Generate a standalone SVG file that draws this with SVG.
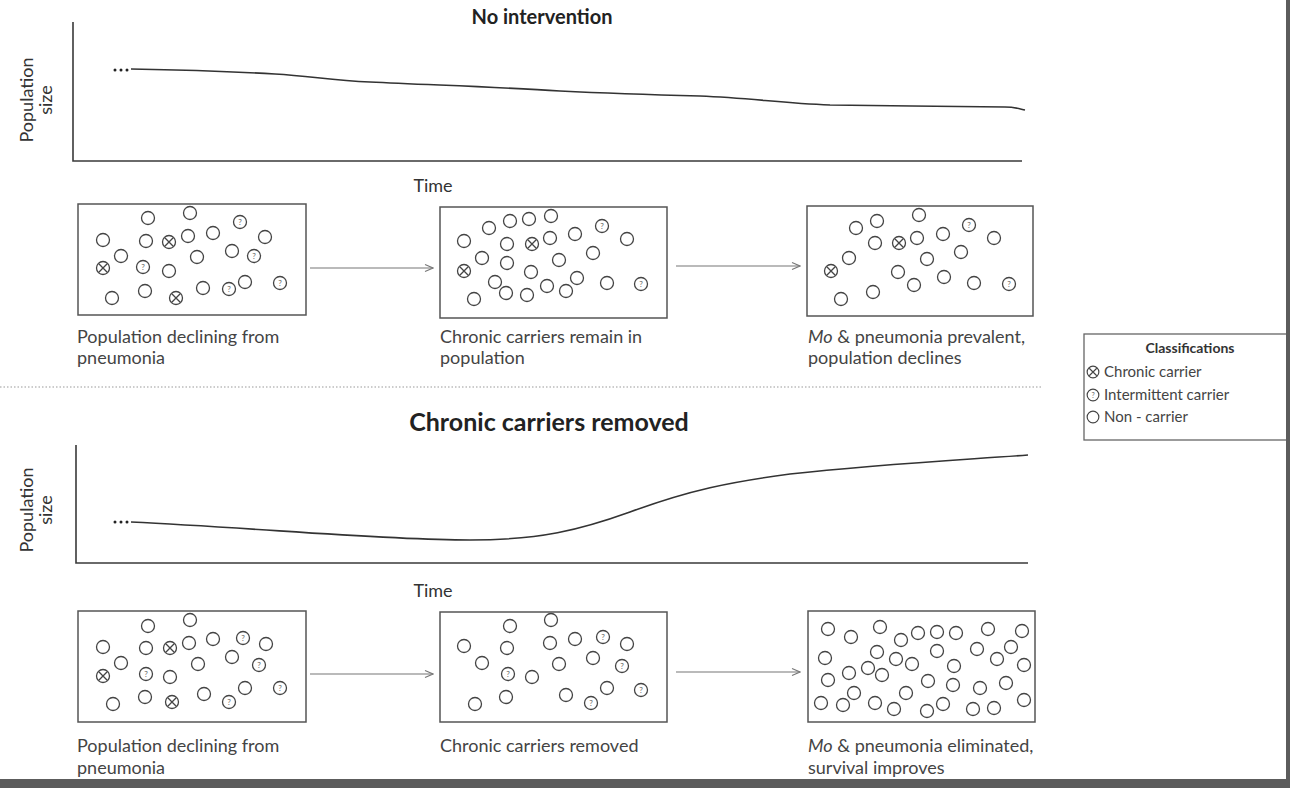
<svg xmlns="http://www.w3.org/2000/svg" xmlns:xlink="http://www.w3.org/1999/xlink" width="1290" height="788" viewBox="0 0 1290 788">
<style>
.bg{fill:#ffffff}
.axis{fill:none;stroke:#3a3a3a;stroke-width:1.6}
.curve{fill:none;stroke:#333;stroke-width:1.6}
.box{fill:#ffffff;stroke:#555;stroke-width:1.5}
.pc{fill:none;stroke:#444;stroke-width:1.3}
.q{font-family:Lato,"Liberation Sans",sans-serif;font-size:8px;fill:#666;text-anchor:middle}
.lbl{font-family:Lato,"Liberation Sans",sans-serif;font-size:18px;fill:#444}
.ttl{font-family:Lato,"Liberation Sans",sans-serif;font-size:20px;font-weight:bold;fill:#222;text-anchor:middle}
.ttl2{font-family:Lato,"Liberation Sans",sans-serif;font-size:25px;font-weight:bold;fill:#222;text-anchor:middle}
.ax{font-family:Lato,"Liberation Sans",sans-serif;font-size:18px;fill:#333;text-anchor:middle}
.leg{font-family:Lato,"Liberation Sans",sans-serif;font-size:15px;fill:#444}
.legt{font-family:Lato,"Liberation Sans",sans-serif;font-size:14px;font-weight:bold;fill:#333;text-anchor:middle}
.conn{fill:none;stroke:#777;stroke-width:1.1}
.sep{fill:none;stroke:#999;stroke-width:1.2;stroke-dasharray:1.5 2}
.dots{fill:#222}
</style>
<defs>
<g id="n"><circle class="pc" cx="0" cy="0" r="6.5"/></g>
<g id="c"><circle class="pc" cx="0" cy="0" r="6.5"/><path class="pc" d="M-4.2,-4.2 L4.2,4.2 M-4.2,4.2 L4.2,-4.2"/></g>
<g id="i"><circle class="pc" cx="0" cy="0" r="6.5"/><text class="q" x="0" y="3">?</text></g>
<marker id="ah" markerWidth="10" markerHeight="8" refX="9" refY="4" orient="auto" markerUnits="userSpaceOnUse"><path d="M1,0.5 L9,4 L1,7.5" fill="none" stroke="#777" stroke-width="1.1"/></marker>
</defs>
<rect class="bg" x="0" y="0" width="1290" height="788"/>

<!-- top chart -->
<g id="chart-top">
<text class="ttl" x="542" y="24">No intervention</text>
<path class="axis" d="M73,22 L73,161 L1022,161"/>
<text class="ax" transform="translate(33,100) rotate(-90)">Population</text>
<text class="ax" transform="translate(52,100) rotate(-90)">size</text>
<text class="ax" x="433" y="192">Time</text>
<circle class="dots" cx="115" cy="70" r="1.5"/><circle class="dots" cx="121" cy="70" r="1.5"/><circle class="dots" cx="127" cy="70" r="1.5"/>
<path class="curve" d="M131,69 C190,70 240,72 275,74 C310,76 330,80 370,82 C430,85 500,87 560,91 C620,94 660,95 700,96 C750,98 780,103 830,105 C880,106 960,106 1005,107 C1015,107 1020,109 1025,110"/>
</g>

<!-- bottom chart -->
<g id="chart-bottom">
<text class="ttl2" x="549" y="431">Chronic carriers removed</text>
<path class="axis" d="M76,445 L76,563 L1028,563"/>
<text class="ax" transform="translate(33,510) rotate(-90)">Population</text>
<text class="ax" transform="translate(52,510) rotate(-90)">size</text>
<text class="ax" x="433" y="597">Time</text>
<circle class="dots" cx="115" cy="522" r="1.5"/><circle class="dots" cx="121" cy="522" r="1.5"/><circle class="dots" cx="127" cy="522" r="1.5"/>
<path class="curve" d="M131,522 C260,528 380,540 470,540 C540,540 580,530 630,512 C690,490 730,482 790,474 C880,464 960,460 1028,455"/>
</g>

<line class="sep" x1="0" y1="387" x2="1042" y2="387"/>

<!-- top row boxes -->
<g id="box-t1">
<rect class="box" x="78" y="204" width="228" height="111"/>
<use href="#n" x="148" y="218"/><use href="#n" x="190" y="213"/><use href="#i" x="240" y="222"/>
<use href="#n" x="103" y="240"/><use href="#n" x="146" y="241"/><use href="#c" x="169" y="242"/>
<use href="#n" x="188" y="236"/><use href="#n" x="213" y="233"/><use href="#n" x="265" y="237"/>
<use href="#n" x="121" y="256"/><use href="#i" x="143" y="267"/><use href="#c" x="103" y="268"/>
<use href="#n" x="169" y="271"/><use href="#n" x="197" y="257"/><use href="#n" x="232" y="251"/>
<use href="#i" x="254" y="256"/><use href="#n" x="112" y="298"/><use href="#n" x="145" y="291"/>
<use href="#c" x="176" y="298"/><use href="#n" x="203" y="288"/><use href="#i" x="229" y="289"/>
<use href="#n" x="245" y="282"/><use href="#i" x="280" y="283"/>
<text class="lbl" x="77" y="343">Population declining from</text>
<text class="lbl" x="77" y="364">pneumonia</text>
</g>

<g id="box-t2">
<rect class="box" x="440" y="207" width="227" height="111"/>
<use href="#n" x="510" y="221"/><use href="#n" x="529" y="219"/><use href="#n" x="551" y="216"/>
<use href="#i" x="602" y="226"/><use href="#n" x="489" y="228"/><use href="#n" x="464" y="241"/>
<use href="#n" x="507" y="244"/><use href="#c" x="532" y="244"/><use href="#n" x="550" y="238"/>
<use href="#n" x="575" y="234"/><use href="#n" x="627" y="239"/><use href="#n" x="482" y="258"/>
<use href="#n" x="507" y="263"/><use href="#n" x="559" y="260"/><use href="#n" x="593" y="253"/>
<use href="#c" x="464" y="271"/><use href="#n" x="531" y="272"/><use href="#n" x="495" y="282"/>
<use href="#n" x="506" y="293"/><use href="#n" x="527" y="295"/><use href="#n" x="547" y="286"/>
<use href="#n" x="566" y="291"/><use href="#n" x="577" y="278"/><use href="#n" x="607" y="283"/>
<use href="#i" x="641" y="284"/><use href="#n" x="474" y="299"/>
<text class="lbl" x="440" y="343">Chronic carriers remain in</text>
<text class="lbl" x="440" y="364">population</text>
</g>

<g id="box-t3">
<rect class="box" x="807" y="206" width="226" height="110"/>
<use href="#n" x="877" y="221"/><use href="#n" x="919" y="215"/><use href="#i" x="969" y="225"/>
<use href="#n" x="856" y="228"/><use href="#n" x="875" y="243"/><use href="#c" x="899" y="243"/>
<use href="#n" x="917" y="238"/><use href="#n" x="943" y="234"/><use href="#n" x="994" y="238"/>
<use href="#n" x="849" y="258"/><use href="#n" x="927" y="259"/><use href="#n" x="961" y="252"/>
<use href="#c" x="831" y="271"/><use href="#n" x="898" y="272"/><use href="#n" x="914" y="285"/>
<use href="#n" x="944" y="277"/><use href="#n" x="974" y="283"/><use href="#i" x="1009" y="284"/>
<use href="#n" x="873" y="292"/><use href="#n" x="841" y="299"/>
<text class="lbl" x="808" y="343"><tspan font-style="italic">Mo</tspan> &amp; pneumonia prevalent,</text>
<text class="lbl" x="808" y="364">population declines</text>
</g>

<!-- bottom row boxes -->
<g id="box-b1">
<rect class="box" x="78" y="611" width="228" height="111"/>
<use href="#n" x="148" y="626"/><use href="#n" x="190" y="620"/><use href="#i" x="243" y="638"/>
<use href="#n" x="103" y="647"/><use href="#n" x="146" y="648"/><use href="#c" x="170" y="648"/>
<use href="#n" x="189" y="643"/><use href="#n" x="213" y="639"/><use href="#n" x="266" y="644"/>
<use href="#n" x="121" y="663"/><use href="#i" x="146" y="674"/><use href="#c" x="103" y="676"/>
<use href="#n" x="170" y="677"/><use href="#n" x="198" y="664"/><use href="#n" x="232" y="657"/>
<use href="#i" x="259" y="665"/><use href="#n" x="113" y="704"/><use href="#n" x="145" y="697"/>
<use href="#c" x="172" y="702"/><use href="#n" x="204" y="694"/><use href="#i" x="229" y="702"/>
<use href="#n" x="245" y="688"/><use href="#i" x="280" y="688"/>
<text class="lbl" x="77" y="752">Population declining from</text>
<text class="lbl" x="77" y="774">pneumonia</text>
</g>

<g id="box-b2">
<rect class="box" x="440" y="612" width="227" height="110"/>
<use href="#n" x="510" y="626"/><use href="#n" x="551" y="620"/><use href="#i" x="603" y="637"/>
<use href="#n" x="464" y="646"/><use href="#n" x="507" y="648"/><use href="#n" x="550" y="643"/>
<use href="#n" x="575" y="639"/><use href="#n" x="627" y="644"/><use href="#n" x="482" y="663"/>
<use href="#n" x="559" y="664"/><use href="#n" x="593" y="658"/><use href="#i" x="622" y="666"/>
<use href="#i" x="508" y="674"/><use href="#n" x="532" y="677"/><use href="#n" x="475" y="704"/>
<use href="#n" x="506" y="697"/><use href="#n" x="566" y="695"/><use href="#i" x="591" y="703"/>
<use href="#n" x="607" y="688"/><use href="#i" x="641" y="690"/>
<text class="lbl" x="440" y="752">Chronic carriers removed</text>
</g>

<g id="box-b3">
<rect class="box" x="808" y="611" width="227" height="111"/>
<use href="#n" x="828" y="629"/><use href="#n" x="851" y="637"/><use href="#n" x="880" y="627"/>
<use href="#n" x="901" y="640"/><use href="#n" x="918" y="633"/><use href="#n" x="937" y="632"/>
<use href="#n" x="956" y="633"/><use href="#n" x="988" y="629"/><use href="#n" x="1022" y="631"/>
<use href="#n" x="825" y="658"/><use href="#n" x="877" y="652"/><use href="#n" x="896" y="659"/>
<use href="#n" x="912" y="664"/><use href="#n" x="937" y="651"/><use href="#n" x="977" y="649"/>
<use href="#n" x="997" y="659"/><use href="#n" x="1011" y="647"/><use href="#n" x="1024" y="665"/>
<use href="#n" x="828" y="680"/><use href="#n" x="849" y="673"/><use href="#n" x="868" y="668"/>
<use href="#n" x="882" y="675"/><use href="#n" x="954" y="666"/><use href="#n" x="928" y="681"/>
<use href="#n" x="953" y="685"/><use href="#n" x="980" y="688"/><use href="#n" x="1006" y="683"/>
<use href="#n" x="854" y="693"/><use href="#n" x="906" y="693"/><use href="#n" x="821" y="703"/>
<use href="#n" x="843" y="705"/><use href="#n" x="875" y="703"/><use href="#n" x="894" y="709"/>
<use href="#n" x="927" y="711"/><use href="#n" x="943" y="704"/><use href="#n" x="973" y="709"/>
<use href="#n" x="994" y="708"/><use href="#n" x="1024" y="700"/>
<text class="lbl" x="808" y="752"><tspan font-style="italic">Mo</tspan> &amp; pneumonia eliminated,</text>
<text class="lbl" x="808" y="774">survival improves</text>
</g>

<!-- connectors -->
<g id="connectors">
<line class="conn" x1="310" y1="268" x2="433" y2="268" marker-end="url(#ah)"/>
<line class="conn" x1="676" y1="266" x2="800" y2="266" marker-end="url(#ah)"/>
<line class="conn" x1="310" y1="674" x2="433" y2="674" marker-end="url(#ah)"/>
<line class="conn" x1="676" y1="672" x2="800" y2="672" marker-end="url(#ah)"/>
</g>

<!-- legend -->
<g id="legend">
<rect x="1084" y="334" width="210" height="106" fill="#fff" stroke="#666" stroke-width="1.3"/>
<text class="legt" x="1190" y="353">Classifications</text>
<use href="#c" x="1093" y="372" transform="translate(109.3,37.2) scale(0.9)"/>
<text class="leg" x="1104" y="377">Chronic carrier</text>
<use href="#i" x="1093" y="395" transform="translate(109.3,39.5) scale(0.9)"/>
<text class="leg" x="1104" y="400">Intermittent carrier</text>
<use href="#n" x="1093" y="417" transform="translate(109.3,41.7) scale(0.9)"/>
<text class="leg" x="1104" y="422">Non - carrier</text>
</g>

<!-- frame shadow -->
<rect x="0" y="779" width="1290" height="9" fill="#5c5c5c"/>
<rect x="1286" y="0" width="4" height="788" fill="#5c5c5c"/>
</svg>
